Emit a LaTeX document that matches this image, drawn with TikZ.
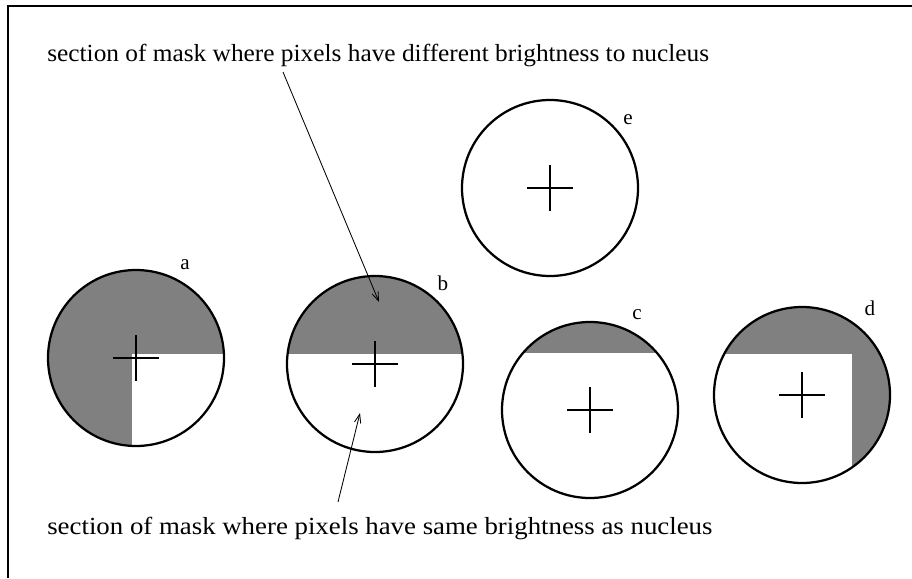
\documentclass[tikz,border=0pt]{standalone}
\usepackage{fontspec}
\setmainfont{Liberation Serif}
\usepackage{tikz}
\usetikzlibrary{positioning,arrows.meta,calc}
\definecolor{MaskGray}{RGB}{128,128,128}
\tikzset{
  rim/.style={line width=1.6pt},
  crosshair/.style={line width=1.6pt},
  pointer/.style={line width=0.6pt,-{Straight Barb[length=2.2mm,width=1.6mm]}},
  caption/.style={anchor=west,inner sep=0pt,font=\fontsize{17.5}{20}\selectfont},
  tag/.style={inner sep=0pt,font=\fontsize{15}{18}\selectfont}
}

\begin{document}
\begin{tikzpicture}[x=0.025cm,y=-0.025cm]
			\useasboundingbox (0,0) rectangle (912,578);
			\draw[line width=1.2pt] (912,6)--(8,6)--(8,578);
			% centres of the masks
			\coordinate (ca) at (136,358);
			\coordinate (cb) at (375,364);
			\coordinate (cc) at (590,410);
			\coordinate (cd) at (802,395);
			\coordinate (ce) at (550,188);
			% grey parts
			\begin{scope}
				\clip (ca) circle (88);
				\fill[MaskGray] (40,260) rectangle (230,354);
				\fill[MaskGray] (40,260) rectangle (132,450);
			\end{scope}
			\begin{scope}
				\clip (cb) circle (88);
				\fill[MaskGray] (280,270) rectangle (470,354);
			\end{scope}
			\begin{scope}
				\clip (cc) circle (88);
				\fill[MaskGray] (495,315) rectangle (685,353);
			\end{scope}
			\begin{scope}
				\clip (cd) circle (88);
				\fill[MaskGray] (705,300) rectangle (895,354);
				\fill[MaskGray] (852,300) rectangle (895,490);
			\end{scope}
			\foreach \c in {ca,cb,cc,cd,ce} {
				\draw[rim] (\c) circle (88);
				\draw[crosshair] ($(\c)+(-23,0)$)--($(\c)+(23,0)$);
				\draw[crosshair] ($(\c)+(0,-23)$)--($(\c)+(0,23)$);
			}
			\node[tag] (la) at (185,265) {a};
			\node[tag] (lb) at (443,283) {b};
			\node[tag] (lc) at (637,315) {c};
			\node[tag] (ld) at (870,308) {d};
			\node[tag] (le) at (628,120) {e};
			% captions and pointers
			\node[caption,xscale=1.03] (diff) at (47,55) {section of mask where pixels have different brightness to nucleus};
			\node[caption,xscale=1.09] (same) at (47,528) {section of mask where pixels have same brightness as nucleus};
			\coordinate (difftail) at (283,72);
			\coordinate (difftip) at (379,302);
			\coordinate (sametail) at (338,502);
			\coordinate (sametip) at (360,413);
			\draw[pointer] (difftail) -- (difftip);
			\draw[pointer] (sametail) -- (sametip);
		\end{tikzpicture}
\end{document}
